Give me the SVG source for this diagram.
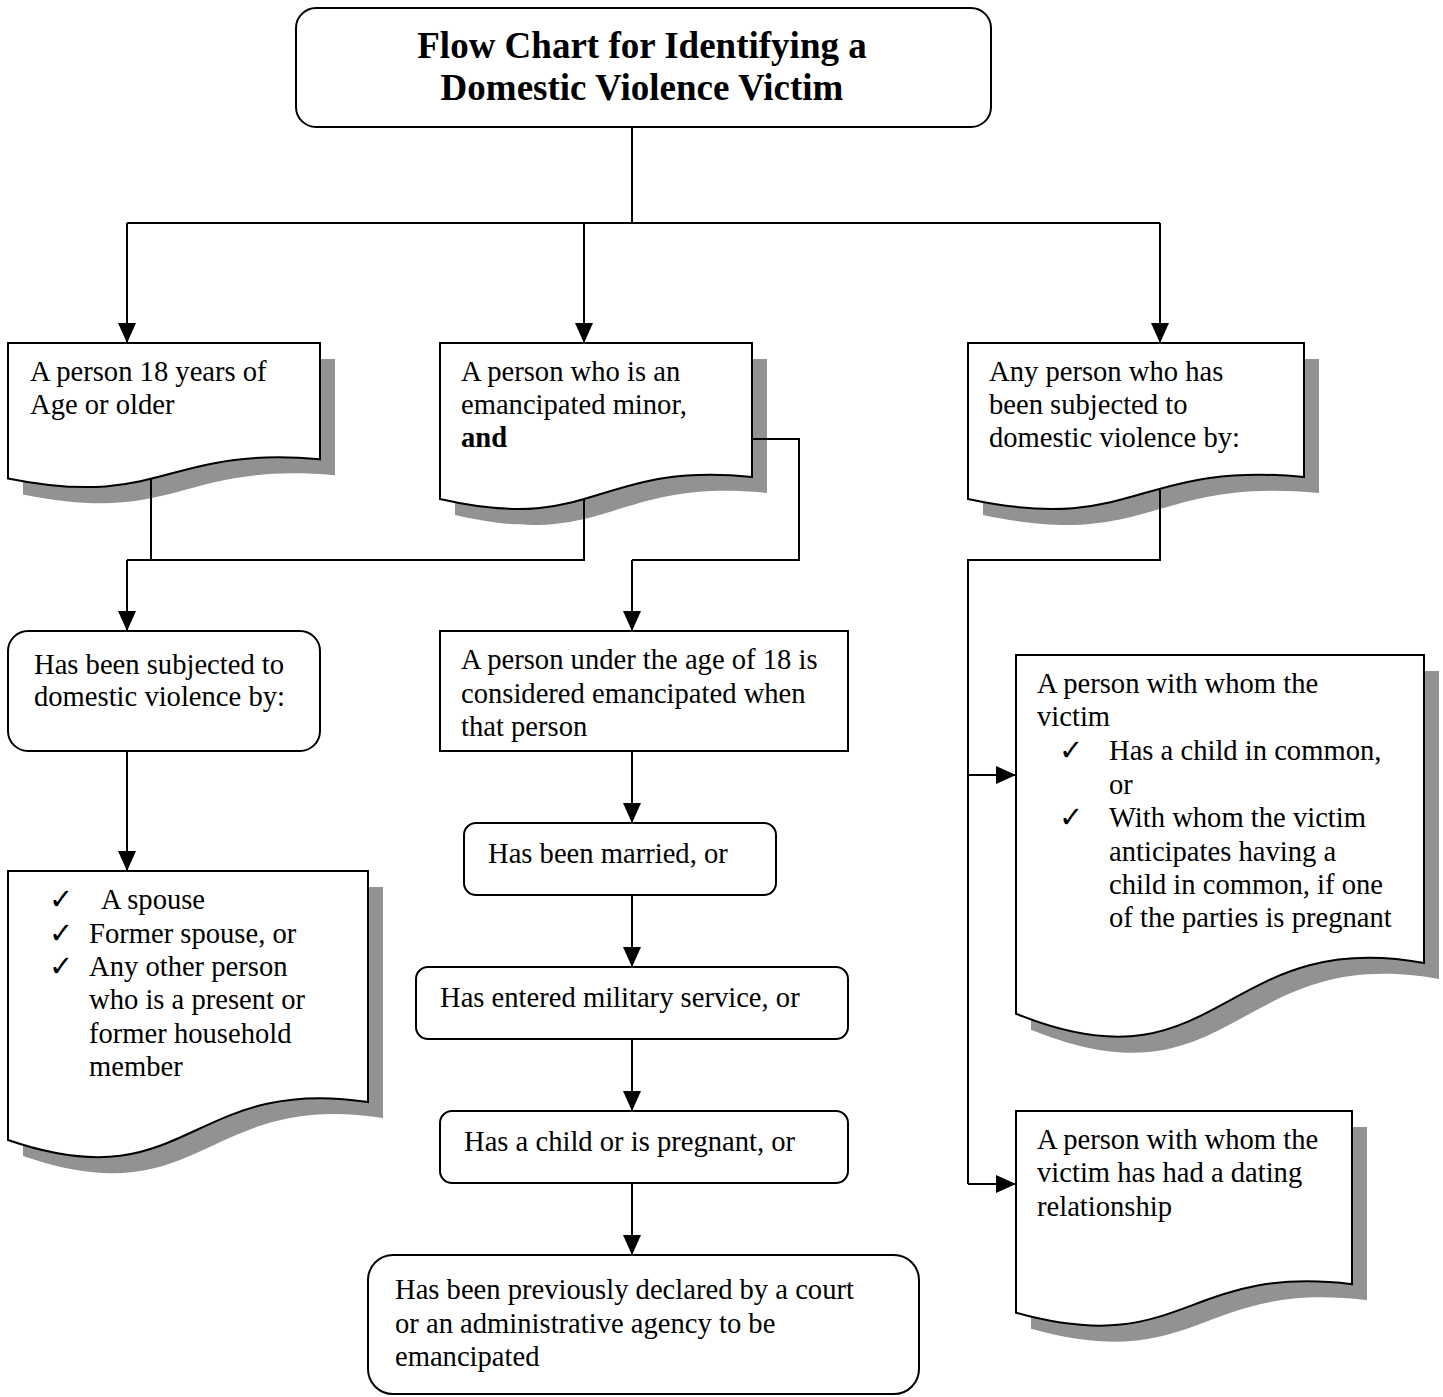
<svg xmlns="http://www.w3.org/2000/svg" width="1443" height="1397" viewBox="0 0 1443 1397">
<style>
.t{font-family:"Liberation Serif","Times New Roman",serif;font-size:28.6px;fill:#000}
.ttl{font-family:"Liberation Serif","Times New Roman",serif;font-size:37px;font-weight:bold;fill:#000}
.ck{font-family:"DejaVu Sans","Liberation Serif",sans-serif;font-size:29px;fill:#000}
.box{fill:#fff;stroke:#000;stroke-width:2}
.sh{fill:#929292;stroke:none}
.ln{fill:none;stroke:#000;stroke-width:2}
.ar{fill:none;stroke:#000;stroke-width:2;marker-end:url(#ah)}
</style>
<defs>
<marker id="ah" markerUnits="userSpaceOnUse" markerWidth="22" markerHeight="20" refX="20" refY="9" orient="auto">
<path d="M0,0 L20,9 L0,18 Z" fill="#000"/>
</marker>
</defs>
<rect width="1443" height="1397" fill="#fff"/>
<g id="shadows">
<path class="sh" transform="translate(15,16)" d="M8,343 H320 V459.3 C164,445.5 164,509.8 8,478.4 Z"/>
<path class="sh" transform="translate(15,16)" d="M440,343 H752 V476.9 C596,461.1 596,535 440,499 Z"/>
<path class="sh" transform="translate(15,16)" d="M968,343 H1304 V476.9 C1136,461.1 1136,535 968,499 Z"/>
<path class="sh" transform="translate(15,16)" d="M8,871 H368 V1102 C188,1074.6 188,1202 8,1140 Z"/>
<path class="sh" transform="translate(15,16)" d="M1016,655 H1424 V963 C1220,926.5 1220,1096.6 1016,1013.7 Z"/>
<path class="sh" transform="translate(15,16)" d="M1016,1111 H1352 V1284.2 C1184,1263.7 1184,1359.4 1016,1312.7 Z"/>
</g>
<g id="connectors">
<path class="ln" d="M632,127 V223 M127,223 H1160"/>
<path class="ar" d="M127,223 V343"/>
<path class="ar" d="M584,223 V343"/>
<path class="ar" d="M1160,223 V343"/>
<path class="ln" d="M151,470 V560 M584,490 V560 H127"/>
<path class="ar" d="M127,560 V631"/>
<path class="ln" d="M740,439 H799 V560 H632"/>
<path class="ar" d="M632,560 V631"/>
<path class="ln" d="M1160,490 V560 H968 V1184"/>
<path class="ar" d="M968,775 H1016"/>
<path class="ar" d="M968,1184 H1016"/>
<path class="ar" d="M127,751 V871"/>
<path class="ar" d="M632,751 V823"/>
<path class="ar" d="M632,895 V967"/>
<path class="ar" d="M632,1039 V1111"/>
<path class="ar" d="M632,1183 V1255"/>
</g>
<g id="title">
<rect class="box" x="296" y="8" width="695" height="119" rx="20"/>
<text class="ttl" x="642" y="58" text-anchor="middle">Flow Chart for Identifying a</text>
<text class="ttl" x="642" y="100" text-anchor="middle">Domestic Violence Victim</text>
</g>
<g id="adult">
<path class="box" d="M8,343 H320 V459.3 C164,445.5 164,509.8 8,478.4 Z"/>
<text class="t" x="30" y="381">A person 18 years of</text>
<text class="t" x="30" y="414">Age or older</text>
</g>
<g id="minor">
<path class="box" d="M440,343 H752 V476.9 C596,461.1 596,535 440,499 Z"/>
<text class="t" x="461" y="381">A person who is an</text>
<text class="t" x="461" y="414">emancipated minor,</text>
<text class="t" x="461" y="447" font-weight="bold">and</text>
</g>
<g id="anyperson">
<path class="box" d="M968,343 H1304 V476.9 C1136,461.1 1136,535 968,499 Z"/>
<text class="t" x="989" y="381">Any person who has</text>
<text class="t" x="989" y="414">been subjected to</text>
<text class="t" x="989" y="447">domestic violence by:</text>
</g>
<g id="subjected">
<rect class="box" x="8" y="631" width="312" height="120" rx="20"/>
<text class="t" x="34" y="674">Has been subjected to</text>
<text class="t" x="34" y="706">domestic violence by:</text>
</g>
<g id="household">
<path class="box" d="M8,871 H368 V1102 C188,1074.6 188,1202 8,1140 Z"/>
<text class="ck" x="49" y="909">✓</text>
<text class="t" x="101" y="909">A spouse</text>
<text class="ck" x="49" y="943">✓</text>
<text class="t" x="89" y="943">Former spouse, or</text>
<text class="ck" x="49" y="976">✓</text>
<text class="t" x="89" y="976">Any other person</text>
<text class="t" x="89" y="1009">who is a present or</text>
<text class="t" x="89" y="1043">former household</text>
<text class="t" x="89" y="1076">member</text>
</g>
<g id="under18">
<rect class="box" x="440" y="631" width="408" height="120"/>
<text class="t" x="461" y="669">A person under the age of 18 is</text>
<text class="t" x="461" y="703">considered emancipated when</text>
<text class="t" x="461" y="736">that person</text>
</g>
<g id="married">
<rect class="box" x="464" y="823" width="312" height="72" rx="12"/>
<text class="t" x="488" y="863">Has been married, or</text>
</g>
<g id="military">
<rect class="box" x="416" y="967" width="432" height="72" rx="12"/>
<text class="t" x="440" y="1007">Has entered military service, or</text>
</g>
<g id="child">
<rect class="box" x="440" y="1111" width="408" height="72" rx="12"/>
<text class="t" x="464" y="1151">Has a child or is pregnant, or</text>
</g>
<g id="declared">
<rect class="box" x="368" y="1255" width="551" height="139" rx="25"/>
<text class="t" x="395" y="1299">Has been previously declared by a court</text>
<text class="t" x="395" y="1333">or an administrative agency to be</text>
<text class="t" x="395" y="1366">emancipated</text>
</g>
<g id="common">
<path class="box" d="M1016,655 H1424 V963 C1220,926.5 1220,1096.6 1016,1013.7 Z"/>
<text class="t" x="1037" y="693">A person with whom the</text>
<text class="t" x="1037" y="726">victim</text>
<text class="ck" x="1059" y="760">✓</text>
<text class="t" x="1109" y="760">Has a child in common,</text>
<text class="t" x="1109" y="794">or</text>
<text class="ck" x="1059" y="827">✓</text>
<text class="t" x="1109" y="827">With whom the victim</text>
<text class="t" x="1109" y="861">anticipates having a</text>
<text class="t" x="1109" y="894">child in common, if one</text>
<text class="t" x="1109" y="927">of the parties is pregnant</text>
</g>
<g id="dating">
<path class="box" d="M1016,1111 H1352 V1284.2 C1184,1263.7 1184,1359.4 1016,1312.7 Z"/>
<text class="t" x="1037" y="1149">A person with whom the</text>
<text class="t" x="1037" y="1182">victim has had a dating</text>
<text class="t" x="1037" y="1216">relationship</text>
</g>
</svg>
